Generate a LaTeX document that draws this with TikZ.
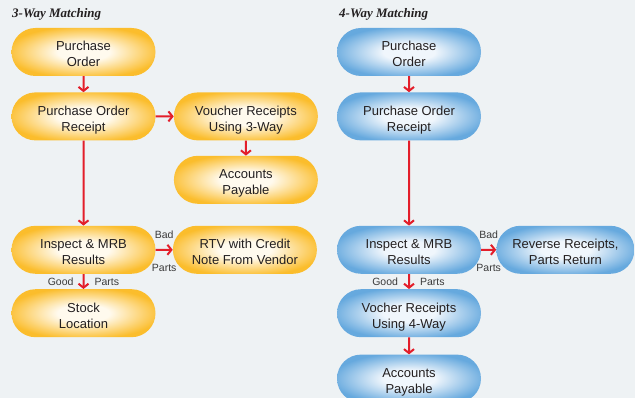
\documentclass[tikz,border=0pt]{standalone}
\usepackage{fontspec}
\setmainfont{Liberation Serif}
\setsansfont{Liberation Sans}
\usetikzlibrary{arrows.meta, positioning, shapes.misc}
\definecolor{pagebg}{HTML}{EEF2F4}
\definecolor{pillorangein}{HTML}{FFFAEE}
\definecolor{pillorangeout}{HTML}{FBBD2C}
\definecolor{pillbluein}{HTML}{F0F6FC}
\definecolor{pillblueout}{HTML}{66A9DE}
\definecolor{flowred}{HTML}{E31E2A}
\definecolor{inktext}{HTML}{231F20}
\definecolor{labeltext}{HTML}{3A3A3A}
\pgfdeclareradialshading{orangepill}{\pgfpoint{0bp}{0bp}}{%
  color(0bp)=(pillorangein); color(9bp)=(pillorangein);
  color(27bp)=(pillorangeout); color(50bp)=(pillorangeout)}
\pgfdeclareradialshading{bluepill}{\pgfpoint{0bp}{0bp}}{%
  color(0bp)=(pillbluein); color(9bp)=(pillbluein);
  color(27bp)=(pillblueout); color(50bp)=(pillblueout)}

\begin{document}
\begin{tikzpicture}[
      x=1pt, y=1pt,
      pill/.style={rounded rectangle, minimum width=144pt, minimum height=48pt,
        inner sep=0pt, align=center, text=inktext,
        text height=33pt, text depth=3pt,
        font=\sffamily\fontsize{13}{16}\selectfont},
      pillorange/.style={pill, shading=orangepill},
      pillblue/.style={pill, shading=bluepill},
      flow/.style={draw=flowred, line width=2pt,
        -{Straight Barb[length=4pt, width=10pt]}},
      lbl/.style={font=\sffamily\fontsize{10.5}{12}\selectfont, text=labeltext,
        inner sep=1pt},
      title/.style={anchor=base west, inner sep=0pt,
        font=\rmfamily\bfseries\itshape\fontsize{13}{15}\selectfont, text=inktext}
    ]
      \fill[pagebg] (0,0) rectangle (635,-398);
      \useasboundingbox (0,0) rectangle (635,-398);

      % 3-way matching
      \node[title] (title3) at (12,-18) {3-Way Matching};
      \node[pillorange] (po3) at (83.5,-52) {Purchase\\Order};
      \node[pillorange, below=16pt of po3] (por3) {Purchase Order\\Receipt};
      \node[pillorange, right=18pt of por3] (vr3) {Voucher Receipts\\Using 3-Way};
      \node[pillorange, below=15pt of vr3] (ap3) {Accounts\\Payable};
      \node[pillorange, below=85pt of por3] (insp3) {Inspect \& MRB\\Results};
      \node[pillorange, right=17pt of insp3] (rtv3) {RTV with Credit\\Note From Vendor};
      \node[pillorange, below=15pt of insp3] (stock3) {Stock\\Location};
      \draw[flow] (po3) -- (por3);
      \draw[flow] (por3) -- (vr3);
      \draw[flow] (vr3) -- (ap3);
      \draw[flow] (por3) -- (insp3);
      \draw[flow] (insp3) -- node[lbl, above=9pt] {Bad}
        node[lbl, below=12pt] {Parts} (rtv3);
      \draw[flow] (insp3) -- node[lbl, left=8pt] {Good}
        node[lbl, right=9pt] {Parts} (stock3);

      % 4-way matching
      \node[title] (title4) at (339,-18) {4-Way Matching};
      \node[pillblue] (po4) at (409,-52) {Purchase\\Order};
      \node[pillblue, below=16pt of po4] (por4) {Purchase Order\\Receipt};
      \node[pillblue, below=85pt of por4] (insp4) {Inspect \& MRB\\Results};
      \node[pillblue, minimum width=138pt, right=15pt of insp4] (rev4)
        {Reverse Receipts,\\Parts Return};
      \node[pillblue, below=15pt of insp4] (vr4) {Vocher Receipts\\Using 4-Way};
      \node[pillblue, below=17pt of vr4] (ap4) {Accounts\\Payable};
      \draw[flow] (po4) -- (por4);
      \draw[flow] (por4) -- (insp4);
      \draw[flow] (insp4) -- node[lbl, above=9pt] {Bad}
        node[lbl, below=12pt] {Parts} (rev4);
      \draw[flow] (insp4) -- node[lbl, left=9pt] {Good}
        node[lbl, right=9pt] {Parts} (vr4);
      \draw[flow] (vr4) -- (ap4);
    \end{tikzpicture}
\end{document}
